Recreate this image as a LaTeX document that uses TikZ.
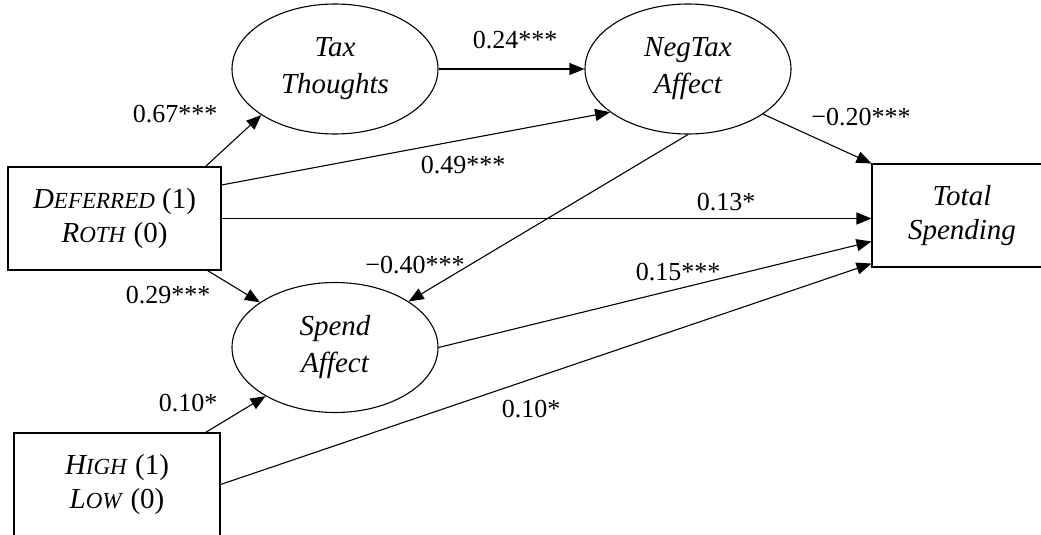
\documentclass[tikz,border=0pt]{standalone}
\usepackage{fontspec}
\setmainfont{Liberation Serif}
\usetikzlibrary{arrows.meta,shapes.geometric}
\newcommand{\fakesc}[2]{\textit{#1{\fontsize{23}{26}\selectfont #2}}}
\begin{document}
\begin{tikzpicture}[x=1pt,y=-1pt,
  lat/.style={ellipse,draw,line width=1.1pt,minimum width=206pt,minimum height=130pt,inner sep=0pt,font=\fontsize{29}{37}\selectfont\itshape,align=center},
  obs/.style={rectangle,draw,line width=1.1pt,inner sep=0pt,minimum height=103pt,font=\fontsize{29}{34}\selectfont,align=center},
  pth/.style={line width=1.1pt,-{Triangle[length=15pt,width=12pt]}},
  lab/.style={font=\fontsize{26}{30}\selectfont,inner sep=0pt}]
\useasboundingbox (0,0) rectangle (1041,535);
% nodes
\node[lat] (tax) at (335,69) {Tax\\Thoughts};
\node[lat] (neg) at (688,69) {NegTax\\Affect};
\node[lat] (spend) at (335,347.5) {Spend\\Affect};
\node[obs,minimum width=213pt] (def) at (114.5,218.5) {\fakesc{D}{EFERRED} (1)\\\fakesc{R}{OTH} (0)};
\node[obs,minimum width=206pt] (high) at (117,484.5) {\fakesc{H}{IGH} (1)\\\fakesc{L}{OW} (0)};
\node[obs,minimum width=180pt,font=\fontsize{29}{34}\selectfont\itshape] (tot) at (962,215.5) {Total\\Spending};
% paths
\draw[pth] ([xshift=-16pt]def.north east) -- (tax.212);
\draw[pth] ([yshift=33.5pt]def.east) -- (neg.209.5);
\draw[pth] (def.east) -- (tot.west |- def.east);
\draw[pth] ([xshift=-14pt]def.south east) -- (spend.149);
\draw[pth] (tax.east) -- (neg.west);
\draw[pth] (neg.329) -- (tot.north west);
\draw[pth] (neg.south) -- (spend.32.3);
\draw[pth] (spend.east) -- ([yshift=-26pt]tot.west);
\draw[pth] ([xshift=-15pt]high.north east) -- (spend.215.3);
\draw[pth] (high.east) -- ([yshift=4pt]tot.south west);
% labels
\node[lab] (l024) at (515,40) {0.24***};
\node[lab] (l067) at (175,114) {0.67***};
\node[lab] (l049) at (463,165) {0.49***};
\node[lab] (l020) at (861,117) {−0.20***};
\node[lab] (l013) at (726,202) {0.13*};
\node[lab] (l040) at (415,265) {−0.40***};
\node[lab] (l029) at (168,295) {0.29***};
\node[lab] (l015) at (678,272) {0.15***};
\node[lab] (l010a) at (188,403) {0.10*};
\node[lab] (l010b) at (531,409) {0.10*};
\end{tikzpicture}
\end{document}
